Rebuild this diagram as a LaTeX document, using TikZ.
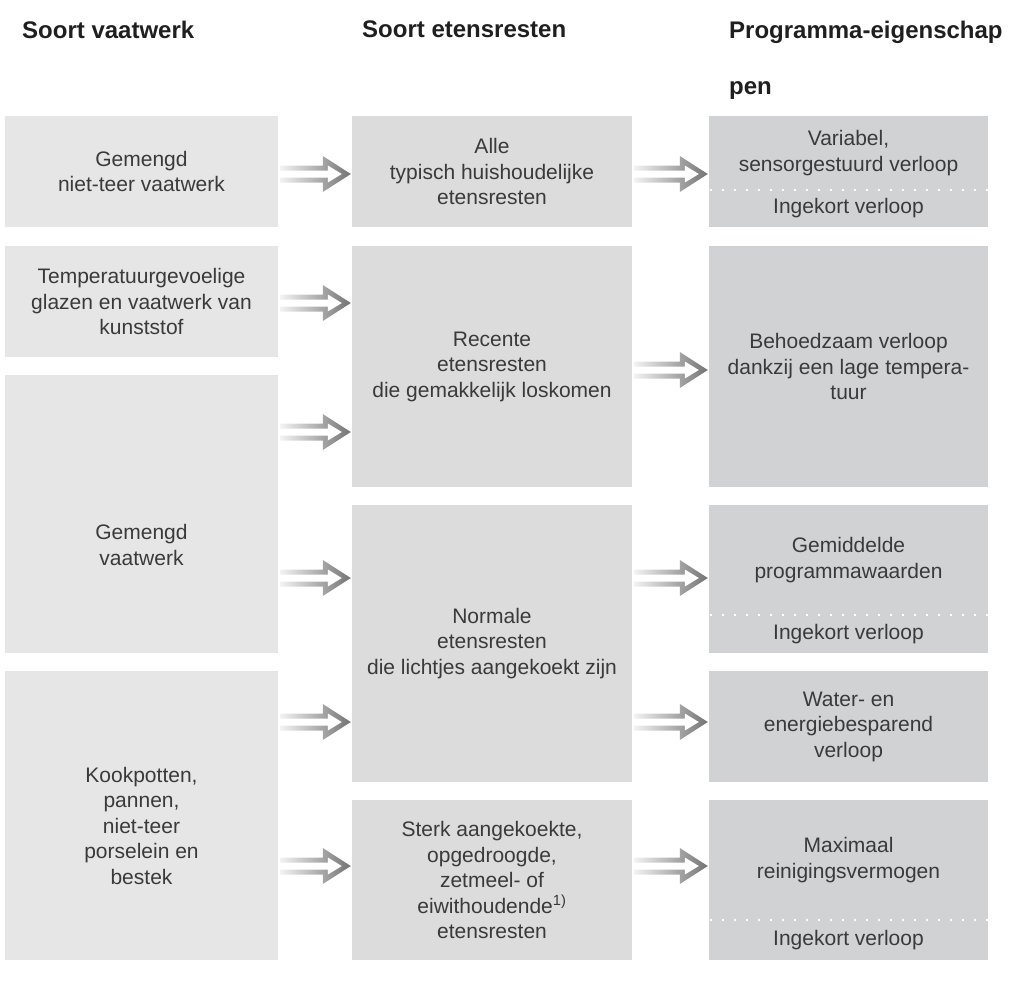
\documentclass[tikz,border=0pt]{standalone}
\usepackage{fontspec}
\setmainfont{Liberation Sans}
\usetikzlibrary{calc,positioning}
\definecolor{plate}{HTML}{E6E6E7}
\definecolor{soil}{HTML}{DCDCDD}
\definecolor{prog}{HTML}{D1D2D4}
\definecolor{ink}{HTML}{3A3A3A}
\newcommand\bodyfont{\fontsize{21}{25.5}\selectfont}
\newcommand\headfont{\fontsize{24}{56}\selectfont\bfseries}
\tikzset{
  box/.style={inner sep=0pt,align=center,text=ink,font=\bodyfont},
  dishbox/.style={box,fill=plate,minimum width=273pt},
  soilbox/.style={box,fill=soil,minimum width=280pt},
  progbox/.style={box,fill=prog,minimum width=279pt},
  heading/.style={anchor=north west,inner sep=0pt,align=left,font=\headfont,text=black!88},
  dotline/.style={white,line width=2.2pt,dash pattern=on 2.2pt off 9.8pt},
  arrowbody/.style={left color=black!5,right color=black!55}
}
% hollow double arrow from box #1 to box #2 at height #3
\newcommand\pushto[3]{%
  \coordinate (lvl) at (0,#3);
  \coordinate (s) at ($(#1.east |- lvl)+(2,0)$);
  \coordinate (t) at ($(#2.west |- lvl)+(-1,0)$);
  \shade[arrowbody] ([yshift=8.5pt]s) -- ([xshift=-28pt,yshift=8.5pt]t) -- ([xshift=-28pt,yshift=18pt]t) -- (t)
    -- ([xshift=-28pt,yshift=-18pt]t) -- ([xshift=-28pt,yshift=-8.5pt]t) -- ([yshift=-8.5pt]s) -- cycle;
  \fill[white] ([yshift=3.5pt]s) -- ([xshift=-23pt,yshift=3.5pt]t) -- ([xshift=-23pt,yshift=8.5pt]t) -- ([xshift=-9pt]t)
    -- ([xshift=-23pt,yshift=-8.5pt]t) -- ([xshift=-23pt,yshift=-3.5pt]t) -- ([yshift=-3.5pt]s) -- cycle;
}
\begin{document}
\begin{tikzpicture}[x=1pt,y=-1pt]
  \useasboundingbox (0,0) rectangle (1022,983);

  % column headings
  \node[heading] (h1) at (22,21) {Soort vaatwerk};
  \node[heading] (h2) at (362,21) {Soort etensresten};
  \node[heading] (h3) at (729,21) {Programma-eigenschap\\pen};

  % soort vaatwerk
  \node[dishbox,minimum height=111pt] (d1) at (141.5,171.5) {Gemengd\\niet-teer vaatwerk};
  \node[dishbox,minimum height=111pt] (d2) at (141.5,301.5) {Temperatuurgevoelige\\glazen en vaatwerk van\\kunststof};
  \node[dishbox,minimum height=278pt] (d3) at (141.5,514) {};
  \node[box] (d3txt) at ([yshift=-31pt]d3.center) {Gemengd\\vaatwerk};
  \node[dishbox,minimum height=289pt] (d4) at (141.5,815.5) {};
  \node[box] (d4txt) at ([yshift=-10pt]d4.center) {Kookpotten,\\pannen,\\niet-teer\\porselein en\\bestek};

  % soort etensresten
  \node[soilbox,minimum height=111pt] (s1) at (492,171.5) {Alle\\typisch huishoudelijke\\etensresten};
  \node[soilbox,minimum height=241pt] (s2) at (492,366.5) {Recente\\etensresten\\die gemakkelijk loskomen};
  \node[soilbox,minimum height=277pt] (s3) at (492,643.5) {Normale\\etensresten\\die lichtjes aangekoekt zijn};
  \node[soilbox,minimum height=160pt] (s4) at (492,880) {Sterk aangekoekte,\\opgedroogde,\\zetmeel- of\\eiwithoudende\textsuperscript{1)}\\etensresten};

  % programma-eigenschappen
  \node[progbox,minimum height=74pt] (p1) at (848.5,153) {Variabel,\\sensorgestuurd verloop};
  \node[progbox,minimum height=37pt] (p1b) at (848.5,208.5) {Ingekort verloop};
  \node[progbox,minimum height=241pt] (p2) at (848.5,366.5) {Behoedzaam verloop\\dankzij een lage tempera-\\tuur};
  \node[progbox,minimum height=110pt] (p3) at (848.5,560) {Gemiddelde\\programmawaarden};
  \node[progbox,minimum height=38pt] (p3b) at (848.5,634) {Ingekort verloop};
  \node[progbox,minimum height=111pt] (p4) at (848.5,726.5) {Water- en\\energiebesparend\\verloop};
  \node[progbox,minimum height=120pt] (p5) at (848.5,860) {Maximaal\\reinigingsvermogen};
  \node[progbox,minimum height=40pt] (p5b) at (848.5,940) {Ingekort verloop};

  \draw[dotline] ($(p1.south west)+(1,0)$) -- (p1.south east);
  \draw[dotline] ($(p3.south west)+(1,0)$) -- (p3.south east);
  \draw[dotline] ($(p5.south west)+(1,0)$) -- (p5.south east);

  % arrows
  \pushto{d1}{s1}{174}
  \pushto{d2}{s2}{303}
  \pushto{d3}{s2}{432}
  \pushto{d3}{s3}{578}
  \pushto{d4}{s3}{722}
  \pushto{d4}{s4}{866}
  \pushto{s1}{p1}{174}
  \pushto{s2}{p2}{370}
  \pushto{s3}{p3}{578}
  \pushto{s3}{p4}{722}
  \pushto{s4}{p5}{866}
\end{tikzpicture}
\end{document}
